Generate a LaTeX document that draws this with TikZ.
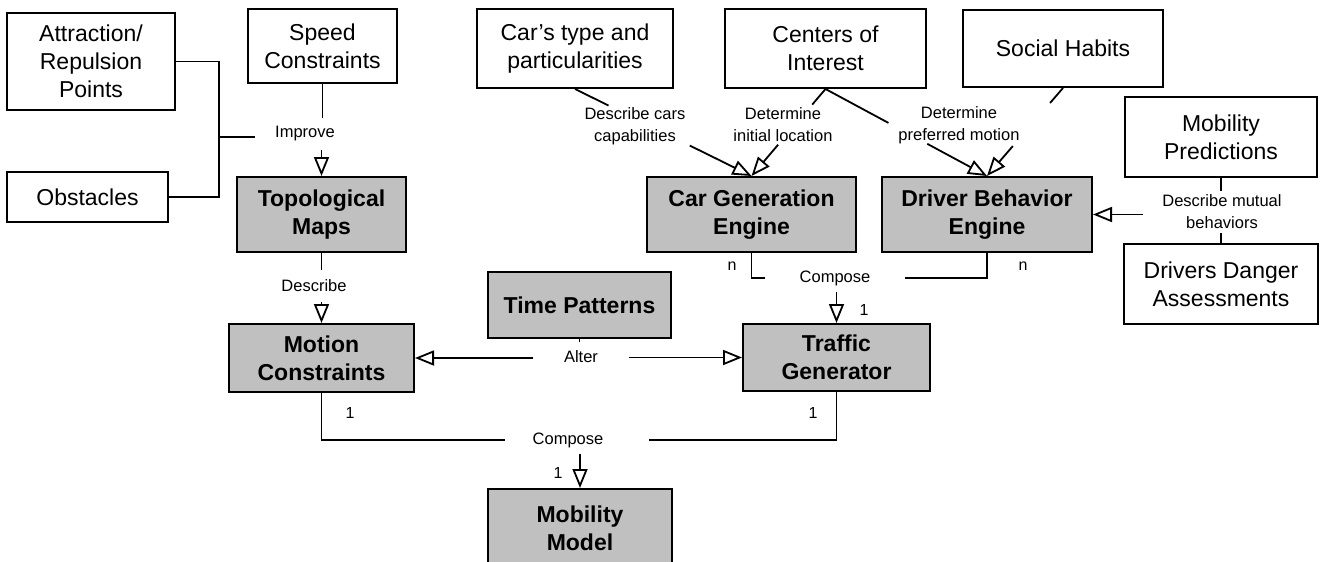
\documentclass[tikz,border=0pt]{standalone}
\usepackage{fontspec}
\setmainfont{Liberation Sans}
\usepackage{tikz}
\usetikzlibrary{arrows.meta,positioning}
\definecolor{BoxGrey}{HTML}{C0C0C0}

\tikzset{
  basebox/.style={draw,line width=2pt,align=center,inner sep=0pt,font=\fontsize{23}{28}\selectfont},
  input/.style={basebox,fill=white},
  module/.style={basebox,fill=BoxGrey,font=\fontsize{23}{28}\selectfont\bfseries},
  lbl/.style={font=\fontsize{16.5}{22}\selectfont,align=center,inner xsep=20pt,inner ysep=9pt},
  num/.style={font=\fontsize{16}{18}\selectfont,inner sep=0pt},
  gen/.style={-{Triangle[open,length=19pt,width=15pt]}},
}

\begin{document}
\begin{tikzpicture}[x=1pt,y=-1pt,line width=1.8pt]
        \useasboundingbox (0,0) rectangle (1320,562);
        \clip (0,0) rectangle (1320,562);
        \node[input,minimum width=168,minimum height=97] (attr) at (91,61.5) {Attraction/\\Repulsion\\Points};
        \node[input,minimum width=149,minimum height=74] (speed) at (322.5,46) {Speed\\Constraints};
        \node[input,minimum width=161,minimum height=50] (obst) at (87.5,197) {Obstacles};
        \node[input,minimum width=196,minimum height=79] (cartype) at (575,48.5) {Car’s type and\\particularities};
        \node[input,minimum width=201,minimum height=79] (centers) at (825.5,48.5) {Centers of\\Interest};
        \node[input,minimum width=200,minimum height=77] (social) at (1063,48.5) {Social Habits};
        \node[input,minimum width=192,minimum height=80] (mobpred) at (1221,137) {Mobility\\Predictions};
        \node[input,minimum width=194,minimum height=80] (danger) at (1221,284) {Drivers Danger\\Assessments};
        \node[module,minimum width=169,minimum height=75] (topo) at (321.5,214.5) {Topological\\Maps};
        \node[module,minimum width=209,minimum height=75] (cargen) at (751.5,214.5) {Car Generation\\Engine};
        \node[module,minimum width=210,minimum height=75] (driver) at (987,214.5) {Driver Behavior\\Engine};
        \node[module,minimum width=183,minimum height=66] (time) at (579.5,305) {Time Patterns};
        \node[module,minimum width=185,minimum height=68] (motion) at (321.5,358) {Motion\\Constraints};
        \node[module,minimum width=187,minimum height=67] (traffic) at (836.5,357.5) {Traffic\\Generator};
        \node[module,minimum width=184,minimum height=78] (mobmodel) at (580,528) {Mobility\\Model};

        \node[lbl,inner xsep=19pt,inner ysep=8pt] (improve) at (305,134) {Improve};
        \node[lbl] (describe) at (314,286) {Describe};
        \node[lbl] (capab) at (635,126) {Describe cars\\capabilities};
        \node[lbl] (initloc) at (783,125) {Determine\\initial location};
        \node[lbl] (prefmot) at (959,125) {Determine\\preferred motion};
        \node[lbl,inner xsep=19pt,inner ysep=3pt] (mutual) at (1222,212) {Describe mutual\\behaviors};
        \node[lbl,inner xsep=34pt,inner ysep=6pt] (compA) at (835,278) {Compose};
        \node[lbl,inner xsep=30pt,inner ysep=8pt] (alter) at (581,357) {Alter};
        \node[lbl,inner xsep=27pt,inner ysep=6pt] (compB) at (568,440) {Compose};
        \node[num] (nA) at (732,266) {n};
        \node[num] (nB) at (1023,266) {n};
        \foreach \x/\y [count=\i] in {864/310,350/413,813/413,558/473}
          \node[num] (one\i) at (\x,\y) {1};

        \coordinate (join) at (219,137);
        \draw (attr.east) -| (join) |- (obst.east);
        \draw (join) -- (join -| improve.west);
        \draw (speed) -- (speed |- improve.north);
        \draw[gen] (improve.south -| topo) -- (topo);

        \draw (topo) -- (topo |- describe.north);
        \draw[gen] (describe.south -| topo) -- (motion);

        \path (cartype.south) -- (cargen.north) coordinate[pos=.19] (ct1) coordinate[pos=.65] (ct2);
        \path (centers.south) -- (cargen.north) coordinate[pos=.18] (ci1) coordinate[pos=.64] (ci2);
        \path (centers.south) -- (driver.north) coordinate[pos=.39] (cp1) coordinate[pos=.63] (cp2);
        \path (social.south) -- (driver.north) coordinate[pos=.17] (sh1) coordinate[pos=.66] (sh2);
        \draw (cartype.south) -- (ct1);
        \draw[gen] (ct2) -- (cargen.north);
        \draw (centers.south) -- (ci1);
        \draw[gen] (ci2) -- (cargen.north);
        \draw (centers.south) -- (cp1);
        \draw[gen] (cp2) -- (driver.north);
        \draw (social.south) -- (sh1);
        \draw[gen] (sh2) -- (driver.north);

        \draw (mobpred) -- (mobpred |- mutual.north);
        \draw (danger) -- (danger |- mutual.south);
        \draw[gen] (mutual.west |- driver) -- (driver);

        \draw (cargen) |- (compA.west);
        \draw (driver) |- (compA.east);
        \draw[gen] (compA.south -| traffic) -- (traffic);

        \draw (time) -- (time |- alter.north);
        \draw[gen] (alter.west |- motion) -- (motion);
        \draw[gen] (alter.east |- traffic) -- (traffic);

        \draw (motion) |- (compB.west);
        \draw (traffic) |- ([xshift=18pt]compB.east);
        \draw[gen] (compB.south -| mobmodel) -- (mobmodel);
      \end{tikzpicture}
\end{document}
